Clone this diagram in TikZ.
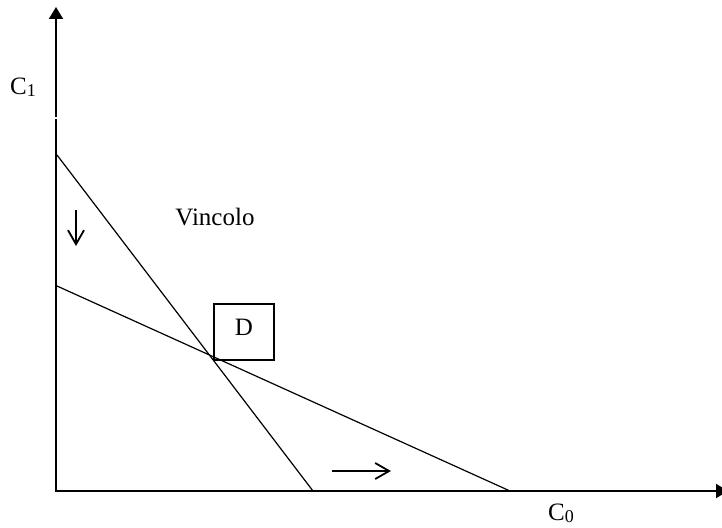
\documentclass[tikz,border=0pt]{standalone}
\usepackage{fontspec}
\setmainfont{Liberation Serif}
\usetikzlibrary{arrows.meta}
\newcommand{\mysubsc}[1]{\raisebox{-2pt}{\fontsize{18}{18}\selectfont #1}}
\begin{document}
\begin{tikzpicture}[x=1pt,y=-1pt,
  axis/.style={line width=2pt},
  axistip/.style={-{Triangle[length=12pt,width=14pt]}},
  budget/.style={line width=1.2pt},
  move/.style={line width=1.8pt,-{Straight Barb[length=14pt,width=16pt]}},
  lbl/.style={font=\fontsize{25}{25}\selectfont, inner sep=0pt}]
\useasboundingbox (0,0) rectangle (722,527);
% axes
\coordinate (O) at (56,491);
\coordinate (Ocorner) at (55,491);
\coordinate (Ytop) at (56,7);
\coordinate (Xend) at (728,491);
\coordinate (gapb) at (56,119);
\coordinate (gapt) at (56,117);
\draw[axis] (O) -- (gapb);
\draw[axis,axistip] (gapt) -- (Ytop);
\draw[axis,axistip] (Ocorner) -- (Xend);
% budget lines
\coordinate (A) at (57,155);
\coordinate (B) at (313,491);
\coordinate (Cc) at (57,286);
\coordinate (Dd) at (510,491);
\draw[budget] (A) -- (B);
\draw[budget] (Cc) -- (Dd);
% shift arrows
\coordinate (dn1) at (76,210);
\coordinate (dn2) at (76,246);
\coordinate (rt1) at (332,471);
\coordinate (rt2) at (391,471);
\draw[move] (dn1) -- (dn2);
\draw[move] (rt1) -- (rt2);
% box D
\node[draw, line width=1.3pt, minimum width=60pt, minimum height=56pt,
      font=\fontsize{25}{25}\selectfont, text height=17pt, text depth=10pt,
      inner sep=0pt] (D) at (244,332) {D};
% labels
\node[lbl] (vinc) at (215,217) {Vincolo};
\node[lbl, anchor=base east] (c1) at (36,94) {C\mysubsc{1}};
\node[lbl, anchor=base west] (c0) at (548,520) {C\mysubsc{0}};
\end{tikzpicture}
\end{document}
